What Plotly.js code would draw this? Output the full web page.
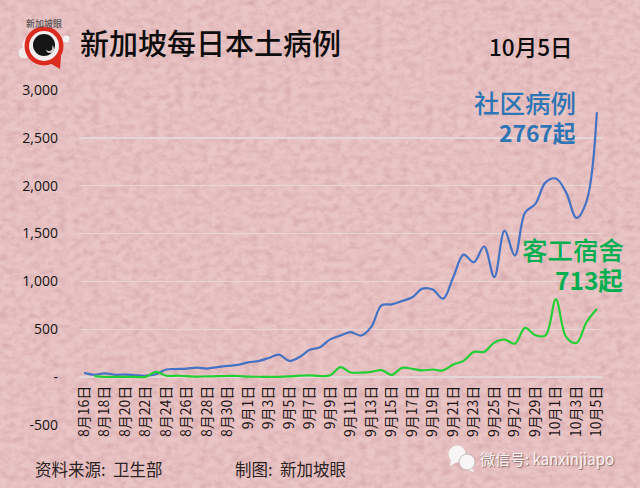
<!DOCTYPE html>
<html><head><meta charset="utf-8">
<script src="https://cdn.plot.ly/plotly-3.0.1.min.js"></script>
<style>
html,body{margin:0;padding:0;width:640px;height:488px;overflow:hidden;background:#eac5c5}
#tex{position:absolute;left:0;top:0;width:640px;height:488px}
#c{position:absolute;left:0;top:0;width:640px;height:488px}
</style></head><body>
<svg id="tex" xmlns="http://www.w3.org/2000/svg"><filter id="n" x="0" y="0" width="100%" height="100%">
<feTurbulence type="fractalNoise" baseFrequency="0.12 0.16" numOctaves="5" seed="11"/>
<feColorMatrix type="matrix" values="0 0 0 0 0.68  0 0 0 0 0.40  0 0 0 0 0.42  1.1 1.1 0 0 -0.86"/>
</filter><rect width="640" height="488" filter="url(#n)"/></svg>
<div id="c"></div>
<script>
const days = ["8月16日","8月17日","8月18日","8月19日","8月20日","8月21日","8月22日","8月23日","8月24日","8月25日","8月26日","8月27日","8月28日","8月29日","8月30日","8月31日","9月1日","9月2日","9月3日","9月4日","9月5日","9月6日","9月7日","9月8日","9月9日","9月10日","9月11日","9月12日","9月13日","9月14日","9月15日","9月16日","9月17日","9月18日","9月19日","9月20日","9月21日","9月22日","9月23日","9月24日","9月25日","9月26日","9月27日","9月28日","9月29日","9月30日","10月1日","10月2日","10月3日","10月4日","10月5日"];
const community = [45,25,40,25,27,20,15,30,80,85,90,100,90,105,118,128,155,168,200,235,170,210,285,313,395,435,470,435,525,750,760,795,835,925,915,820,1045,1280,1200,1365,1045,1530,1270,1720,1810,2035,2075,1930,1665,1840,2767];
const dorm = [null,10,3,2,2,2,3,55,15,15,10,5,8,10,12,12,5,4,2,3,8,15,18,12,20,105,48,48,55,73,24,97,87,70,80,70,132,170,264,264,361,393,350,514,437,437,812,420,357,576,713];
const yTicks = [-500,0,500,1000,1500,2000,2500,3000];
const yLabels = ["-500","-","500","1,000","1,500","2,000","2,500","3,000"];
const xTicks = days.filter((d,i)=>i%2===0);
const CJK = '"Noto Sans CJK SC","Noto Sans",sans-serif';
const L=79,R=602,T=90,B=425;
const px=x=>(x-L)/(R-L), py=y=>(B-y)/(B-T);
const circle=(cx,cy,r,fill,line)=>({type:'circle',xref:'paper',yref:'paper',x0:px(cx-r),x1:px(cx+r),y0:py(cy+r),y1:py(cy-r),fillcolor:fill,line:line||{width:0},layer:'above'});
const poly=(pts,fill)=>({type:'path',xref:'paper',yref:'paper',path:'M'+pts.map(p=>px(p[0])+','+py(p[1])).join('L')+'Z',fillcolor:fill,line:{width:0},layer:'above'});
const note=(x,y,text,size,color,anchor,weight,extra)=>Object.assign({xref:'paper',yref:'paper',x:px(x),y:py(y),text,showarrow:false,xanchor:anchor||'left',yanchor:'middle',font:{family:CJK,size,color,weight:weight||400},borderpad:0},extra||{});
Plotly.newPlot('c',[
 {x:days,y:community,mode:'lines',line:{color:'#4472c4',width:2.2,shape:'spline',smoothing:1},hoverinfo:'skip',cliponaxis:false},
 {x:days,y:dorm,mode:'lines',line:{color:'#23cf35',width:2.2,shape:'spline',smoothing:1},hoverinfo:'skip',cliponaxis:false}
],{
 width:640,height:488,showlegend:false,paper_bgcolor:'rgba(0,0,0,0)',plot_bgcolor:'rgba(0,0,0,0)',
 margin:{l:L,r:640-R,t:T,b:488-B,pad:0},
 xaxis:{type:'category',categoryorder:'array',categoryarray:days,range:[-0.5,50.5],anchor:'free',position:py(377),
  tickmode:'array',tickvals:xTicks,ticktext:xTicks,tickangle:-90,ticks:'',ticklen:0,showgrid:false,zeroline:false,showline:false,ticklabelstandoff:5,
  tickfont:{family:CJK,size:14,color:'#1c1414'}},
 yaxis:{range:[-500,3000],tickmode:'array',tickvals:yTicks,ticktext:yLabels,ticks:'',ticklen:0,showline:false,zeroline:false,
  gridcolor:'#e3d7d8',gridwidth:1.4,tickfont:{family:'"Open Sans","Noto Sans",sans-serif',size:14,color:'#141414'},ticklabelstandoff:20},
 shapes:[
  circle(24,53,5.5,'rgba(243,240,240,0.9)'),
  circle(29,45,7,'rgba(243,240,240,0.9)'),
  circle(66,39,3.5,'#f3f0f0'),
  poly([[48,62],[61,56],[60,69]],'#dd2a1f'),
  circle(44,46,19.5,'#dd2a1f'),
  circle(44,46,15,'#f4efef'),
  circle(44,45,11,'#161616'),
  circle(50,49,4,'#d8cfcf'),
  circle(49,47.5,3.4,'#161616'),
  poly([[451,460],[450,466],[457,462]],'#f7f5f5'),
  circle(457,454,8.5,'#f7f5f5'),
  poly([[472,468],[474,472],[468,470]],'#f7f5f5'),
  circle(467,462,8,'#f7f5f5',{color:'#a99',width:0.6})
 ],
 annotations:[
  note(79,42,'新加坡每日本土病例',29,'#0c0c0c','left',500),
  note(488,46,'10月5日',22.5,'#0c0c0c','left',500),
  note(577,101,'社区病例',25.5,'#2e75b6','right',500),
  note(577,132,'2767起',22.8,'#2e75b6','right',700),
  note(625,248,'客工宿舍',25.5,'#00b050','right',500),
  note(624,279,'713起',24.5,'#00b050','right',700),
  note(34,469,'资料来源:  卫生部',16.5,'#2b2222'),
  note(234,469,'制图:  新加坡眼',16.5,'#2b2222'),
  note(479,458,'微信号: kanxinjiapo',15,'#f8f4f4','left',400,{font:{family:CJK,size:15,color:'#f8f4f4',shadow:'1px 1px 1px #8a6a6a'}}),
  note(44,23,'新加坡眼',9,'#555','center',500)
 ]
},{staticPlot:true,displayModeBar:false});
</script></body></html>
